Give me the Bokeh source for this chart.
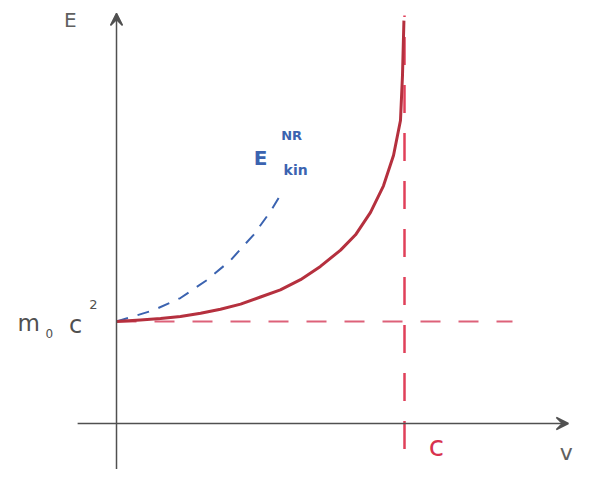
from bokeh.plotting import figure
from bokeh.models import Arrow, VeeHead, Range1d
from bokeh.core.properties import value
from bokeh.embed import file_html
from bokeh.resources import INLINE

# data: v/c and E/(m0 c^2)
rel_beta = [0.0, 0.083, 0.153, 0.222, 0.292, 0.361, 0.431, 0.50, 0.569, 0.639,
            0.708, 0.778, 0.830, 0.882, 0.927, 0.962, 0.986, 0.993, 0.998]
rel_E = [1.0, 1.015, 1.03, 1.05, 1.08, 1.12, 1.17, 1.24, 1.31, 1.41,
         1.54, 1.70, 1.85, 2.07, 2.33, 2.63, 2.97, 3.41, 3.95]

nr_beta = [0.0, 0.128, 0.222, 0.316, 0.396, 0.476, 0.535, 0.569]
nr_E = [1.0, 1.11, 1.23, 1.41, 1.60, 1.85, 2.08, 2.24]

rest_E = 1.0       # m0 c^2 level
c_beta = 1.0       # speed of light

p = figure(width=577, height=469, output_backend="svg", toolbar_location=None,
           x_range=Range1d(-0.4028, 1.6007), y_range=Range1d(-0.451, 4.147),
           min_border=0)
p.axis.visible = False
p.grid.visible = False
p.outline_line_color = None
p.background_fill_color = "white"

axis_col = "#505050"
# axes with arrow heads
p.add_layout(Arrow(end=VeeHead(size=12, line_color=axis_col, fill_color=axis_col, line_width=1.5),
                   x_start=-0.135, y_start=0, x_end=1.569, y_end=0,
                   line_color=axis_col, line_width=1.5))
p.add_layout(Arrow(end=VeeHead(size=12, line_color=axis_col, fill_color=axis_col, line_width=1.5),
                   x_start=0, y_start=-0.6, x_end=0, y_end=4.02,
                   line_color=axis_col, line_width=1.5))

# dashed guide lines
p.line([0, 1.375], [rest_E, rest_E], line_color="#d9506a", line_width=2,
       line_dash="20 18", line_alpha=0.9)
p.line([c_beta, c_beta], [-0.25, 4.0], line_color="#e0405a", line_width=2.5,
       line_dash="28 20")

# non-relativistic kinetic energy (dashed blue)
p.line(nr_beta, nr_E, line_color="#3b63b0", line_width=2, line_dash="12 10")

# relativistic energy (solid red)
p.line(rel_beta, rel_E, line_color="#b5303e", line_width=3, line_join="round")

def txt(x, y, s, size, color, style="normal"):
    p.text(x=[x], y=[y], text=[s], text_color=color, text_font_size=size,
           text_align="center", text_baseline="middle",
           text_font=value("DejaVu Sans"), text_font_style=style)

txt(-0.16, 3.96, "E", "20px", "#606060")
txt(1.562, -0.284, "v", "22px", "#606060")
txt(1.111, -0.225, "c", "28px", "#d8324e")

# m0 c^2 label
txt(-0.305, 0.99, "m", "23px", "#505050")
txt(-0.233, 0.88, "0", "12px", "#505050")
txt(-0.142, 0.97, "c", "24px", "#505050")
txt(-0.080, 1.17, "2", "13px", "#505050")

# E_kin^NR label
txt(0.50, 2.60, "E", "20px", "#3b63b0", "bold")
txt(0.622, 2.49, "kin", "14px", "#3b63b0", "bold")
txt(0.608, 2.82, "NR", "13px", "#3b63b0", "bold")

open("out.html", "w").write(file_html(p, INLINE))
